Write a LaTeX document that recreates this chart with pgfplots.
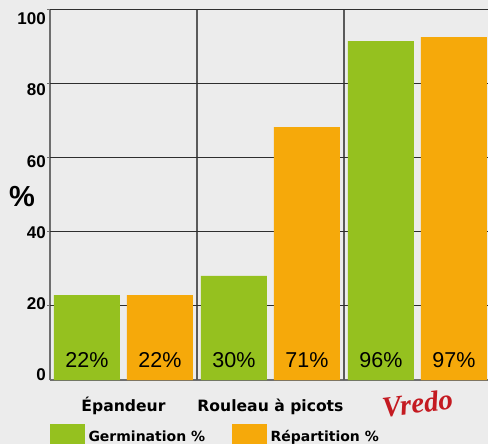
\documentclass[border=0pt]{standalone}
\usepackage{pgfplots}
\pgfplotsset{compat=1.18}
\usepackage{fontspec}
\setmainfont{Liberation Sans}
\newfontfamily\catfont{DejaVu Sans}
\newfontfamily\vredofont{Liberation Serif}
\definecolor{bgc}{HTML}{ECECEC}
\definecolor{gbar}{HTML}{95C11F}
\definecolor{obar}{HTML}{F6A90A}
\definecolor{vredo}{HTML}{C41A21}
\definecolor{hgrid}{HTML}{2E2E2E}
\definecolor{vgrid}{HTML}{5A5A5A}
\definecolor{axgray}{HTML}{6E6E6E}
\begin{document}
\begin{tikzpicture}
\path[use as bounding box, fill=bgc] (0,0) rectangle (488pt,-444pt);
\begin{axis}[
  at={(50pt,-380pt)}, anchor=south west,
  scale only axis, width=438pt, height=370.7pt,
  xmin=0, xmax=2.98, ymin=0, ymax=100,
  axis x line*=bottom, axis y line*=left,
  axis line style={-, draw=axgray, line width=1.5pt},
  tick align=outside, major tick length=0pt,
  /pgf/number format/assume math mode=true,
  ytick={1.35,20.56,39.8,59.0,78.2,97.4},
  yticklabels={0,20,40,60,80,100},
  yticklabel style={font=\bfseries\fontsize{17}{17}\selectfont, anchor=east, inner sep=0pt, xshift=-4pt},
  extra y ticks={20,40,60,80,100},
  extra y tick labels={},
  extra y tick style={grid=major, major tick length=2.5pt, tick style={draw=axgray, line width=1pt}},
  y grid style={draw=hgrid, line width=1.2pt},
  xtick={0.5,1.5,2.5},
  xticklabels={Épandeur, Rouleau à picots, {\raisebox{-6pt}{\rotatebox{7}{\vredofont\bfseries\itshape\fontsize{29}{29}\selectfont\textcolor{vredo}{Vredo}}}}},
  xticklabel style={font=\catfont\bfseries\fontsize{15.6}{15.6}\selectfont, anchor=base, inner sep=0pt, yshift=-31.3pt},
  extra x ticks={1,2},
  extra x tick labels={},
  extra x tick style={grid=major},
  x grid style={draw=vgrid, line width=1.6pt},
  bar width=0.449,
  legend image code/.code={\fill[#1] (0pt,-13pt) rectangle (35pt,12.5pt);},
  legend style={at={(axis description cs:0,0)}, anchor=north west, yshift=-44pt,
    draw=none, fill=none, inner sep=0pt, outer sep=0pt,
    font=\catfont\bfseries\fontsize{14}{14}\selectfont,
    legend columns=2, cells={anchor=base west},
    /tikz/every even column/.append style={column sep=25pt},
    /tikz/every odd column/.append style={column sep=1.5pt}},
  legend cell align=left,
]
\addplot[ybar, bar shift=0pt, fill=gbar, draw=none] coordinates {(0.2517,22.9) (1.2517,28.1) (2.2517,91.4)};
\addlegendentry{Germination \%}
\addplot[ybar, bar shift=0pt, fill=obar, draw=none] coordinates {(0.748,22.9) (1.748,68.2) (2.748,92.5)};
\addlegendentry{Répartition \%}
\addplot[draw=none, mark=none, forget plot, nodes near coords, point meta=explicit symbolic,
  nodes near coords style={anchor=base, yshift=13pt, inner sep=0pt, text=black, font=\fontsize{21.5}{21.5}\selectfont}]
  coordinates {(0.2517,0) [22\%] (0.748,0) [22\%] (1.2517,0) [30\%] (1.748,0) [71\%] (2.2517,0) [96\%] (2.748,0) [97\%]};
\end{axis}
\node[font=\bfseries\fontsize{29}{29}\selectfont, anchor=center] at (22pt,-197pt) {\%};
\end{tikzpicture}
\end{document}
